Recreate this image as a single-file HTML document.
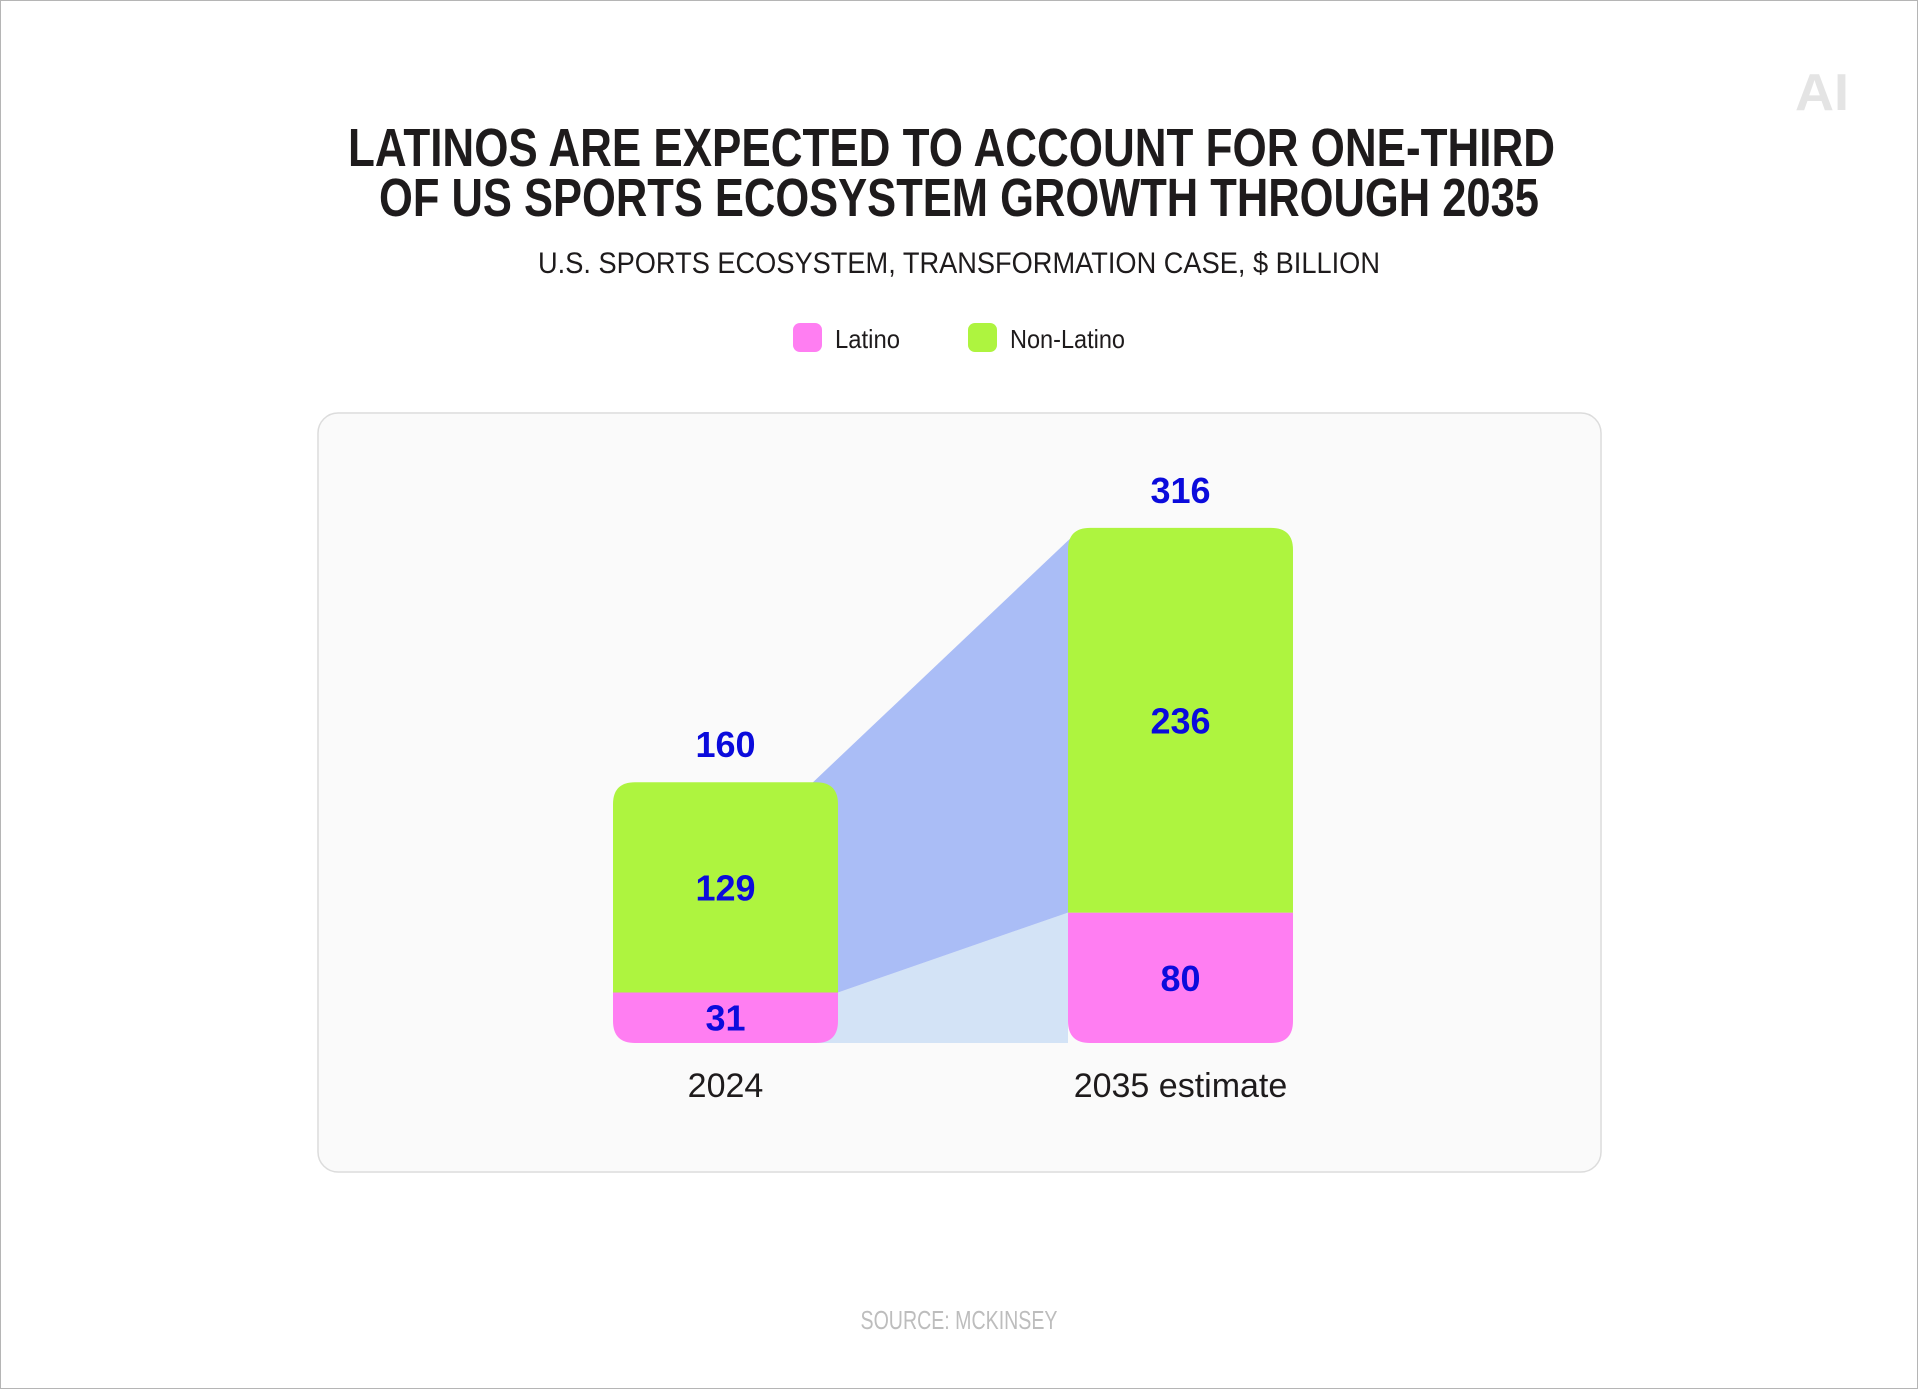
<!DOCTYPE html>
<html><head><meta charset="utf-8"><style>
html,body{margin:0;padding:0;background:#fff;}
svg{display:block;font-family:"Liberation Sans Narrow","Liberation Sans",sans-serif;}
</style></head><body>
<svg id="chart" width="1918" height="1389" viewBox="0 0 1918 1389" xmlns="http://www.w3.org/2000/svg">
<rect x="0.5" y="0.5" width="1917" height="1388" fill="#fff" stroke="#b5b5b5"/>
<text x="1822" y="110" text-anchor="middle" font-size="52" font-weight="bold" fill="#e4e4e4" textLength="54" lengthAdjust="spacingAndGlyphs">AI</text>
<text font-weight="bold" font-size="54" fill="#1e1b1c" text-anchor="middle">
<tspan x="959" y="166" textLength="1207" lengthAdjust="spacingAndGlyphs">LATINOS ARE EXPECTED TO ACCOUNT FOR ONE-THIRD</tspan>
<tspan x="959" y="216" textLength="1160" lengthAdjust="spacingAndGlyphs">OF US SPORTS ECOSYSTEM GROWTH THROUGH 2035</tspan>
</text>
<text x="959" y="273" text-anchor="middle" font-size="30" fill="#1e1b1c" textLength="842" lengthAdjust="spacingAndGlyphs">U.S. SPORTS ECOSYSTEM, TRANSFORMATION CASE, $ BILLION</text>
<g>
<rect x="793" y="323" width="29" height="29" rx="7" fill="#ff7ef2"/>
<text x="835" y="348" font-size="26" fill="#1e1b1c" textLength="65" lengthAdjust="spacingAndGlyphs">Latino</text>
<rect x="968" y="323" width="29" height="29" rx="7" fill="#aef43f"/>
<text x="1010" y="348" font-size="26" fill="#1e1b1c" textLength="115" lengthAdjust="spacingAndGlyphs">Non-Latino</text>
</g>
<rect x="318" y="413" width="1283" height="759" rx="20" fill="#fafafa" stroke="#dcdcdc" stroke-width="1.5"/>
<g id="plot"></g>
<text x="959" y="1329" text-anchor="middle" font-size="26" fill="#bdbdbd" textLength="197" lengthAdjust="spacingAndGlyphs">SOURCE: MCKINSEY</text>
</svg>
<script>
const categories = ["2024", "2035 estimate"];
const latino = [31, 80];
const nonLatino = [129, 236];
const totals = [160, 316];

const NS = "http://www.w3.org/2000/svg";
const plot = document.getElementById("plot");
const baseY = 1043, scale = 1.63, barW = 225;
const xLeft = [613, 1068];
function y(v){ return baseY - v*scale; }
function mk(tag, attrs){ const e=document.createElementNS(NS,tag); for(const k in attrs) e.setAttribute(k,attrs[k]); plot.appendChild(e); return e; }

// flows
const l0 = y(latino[0]), l1 = y(latino[1]);
const t0 = y(totals[0]), t1 = y(totals[1]);
const r0 = xLeft[0]+barW, s1 = xLeft[1];
const f1 = mk("polygon",{points:`${r0-20},${baseY} ${r0},${l0} ${s1},${l1} ${s1},${baseY}`,fill:"#d3e3f6"});


const f2 = mk("polygon",{points:`${r0},${l0} ${r0-25},${t0} ${s1+5},${t1+8} ${s1},${l1}`,fill:"#aabdf6"});



const rad = 22;
categories.forEach((c,i)=>{
  const x0 = xLeft[i], x1 = x0+barW;
  const yl = y(latino[i]), yt = y(totals[i]);
  const pl = mk("path",{d:`M${x0},${yl} H${x1} V${baseY-rad} Q${x1},${baseY} ${x1-rad},${baseY} H${x0+rad} Q${x0},${baseY} ${x0},${baseY-rad} Z`,fill:"#ff7ef2"});
  
  
  const pn = mk("path",{d:`M${x0},${yl} V${yt+rad} Q${x0},${yt} ${x0+rad},${yt} H${x1-rad} Q${x1},${yt} ${x1},${yt+rad} V${yl} Z`,fill:"#aef43f"});
  
  
  const cx = x0+barW/2;
  const labs = [[latino[i],(yl+baseY)/2+13,'value-latino-'+i],[nonLatino[i],(yt+yl)/2+13,'value-non-latino-'+i],[totals[i],yt-25,'value-total-'+i]];
  labs.forEach(([v,yy,n])=>{
    const t = mk("text",{x:cx,y:yy,"text-anchor":"middle","font-size":36,"font-weight":"bold",fill:"#0b0bdc"});
    t.textContent = v;
    
    
  });
  const ct = mk("text",{x:cx,y:1097,"text-anchor":"middle","font-size":34,fill:"#1e1b1c"});
  ct.textContent = c;
  
  
});
</script>
</body></html>
